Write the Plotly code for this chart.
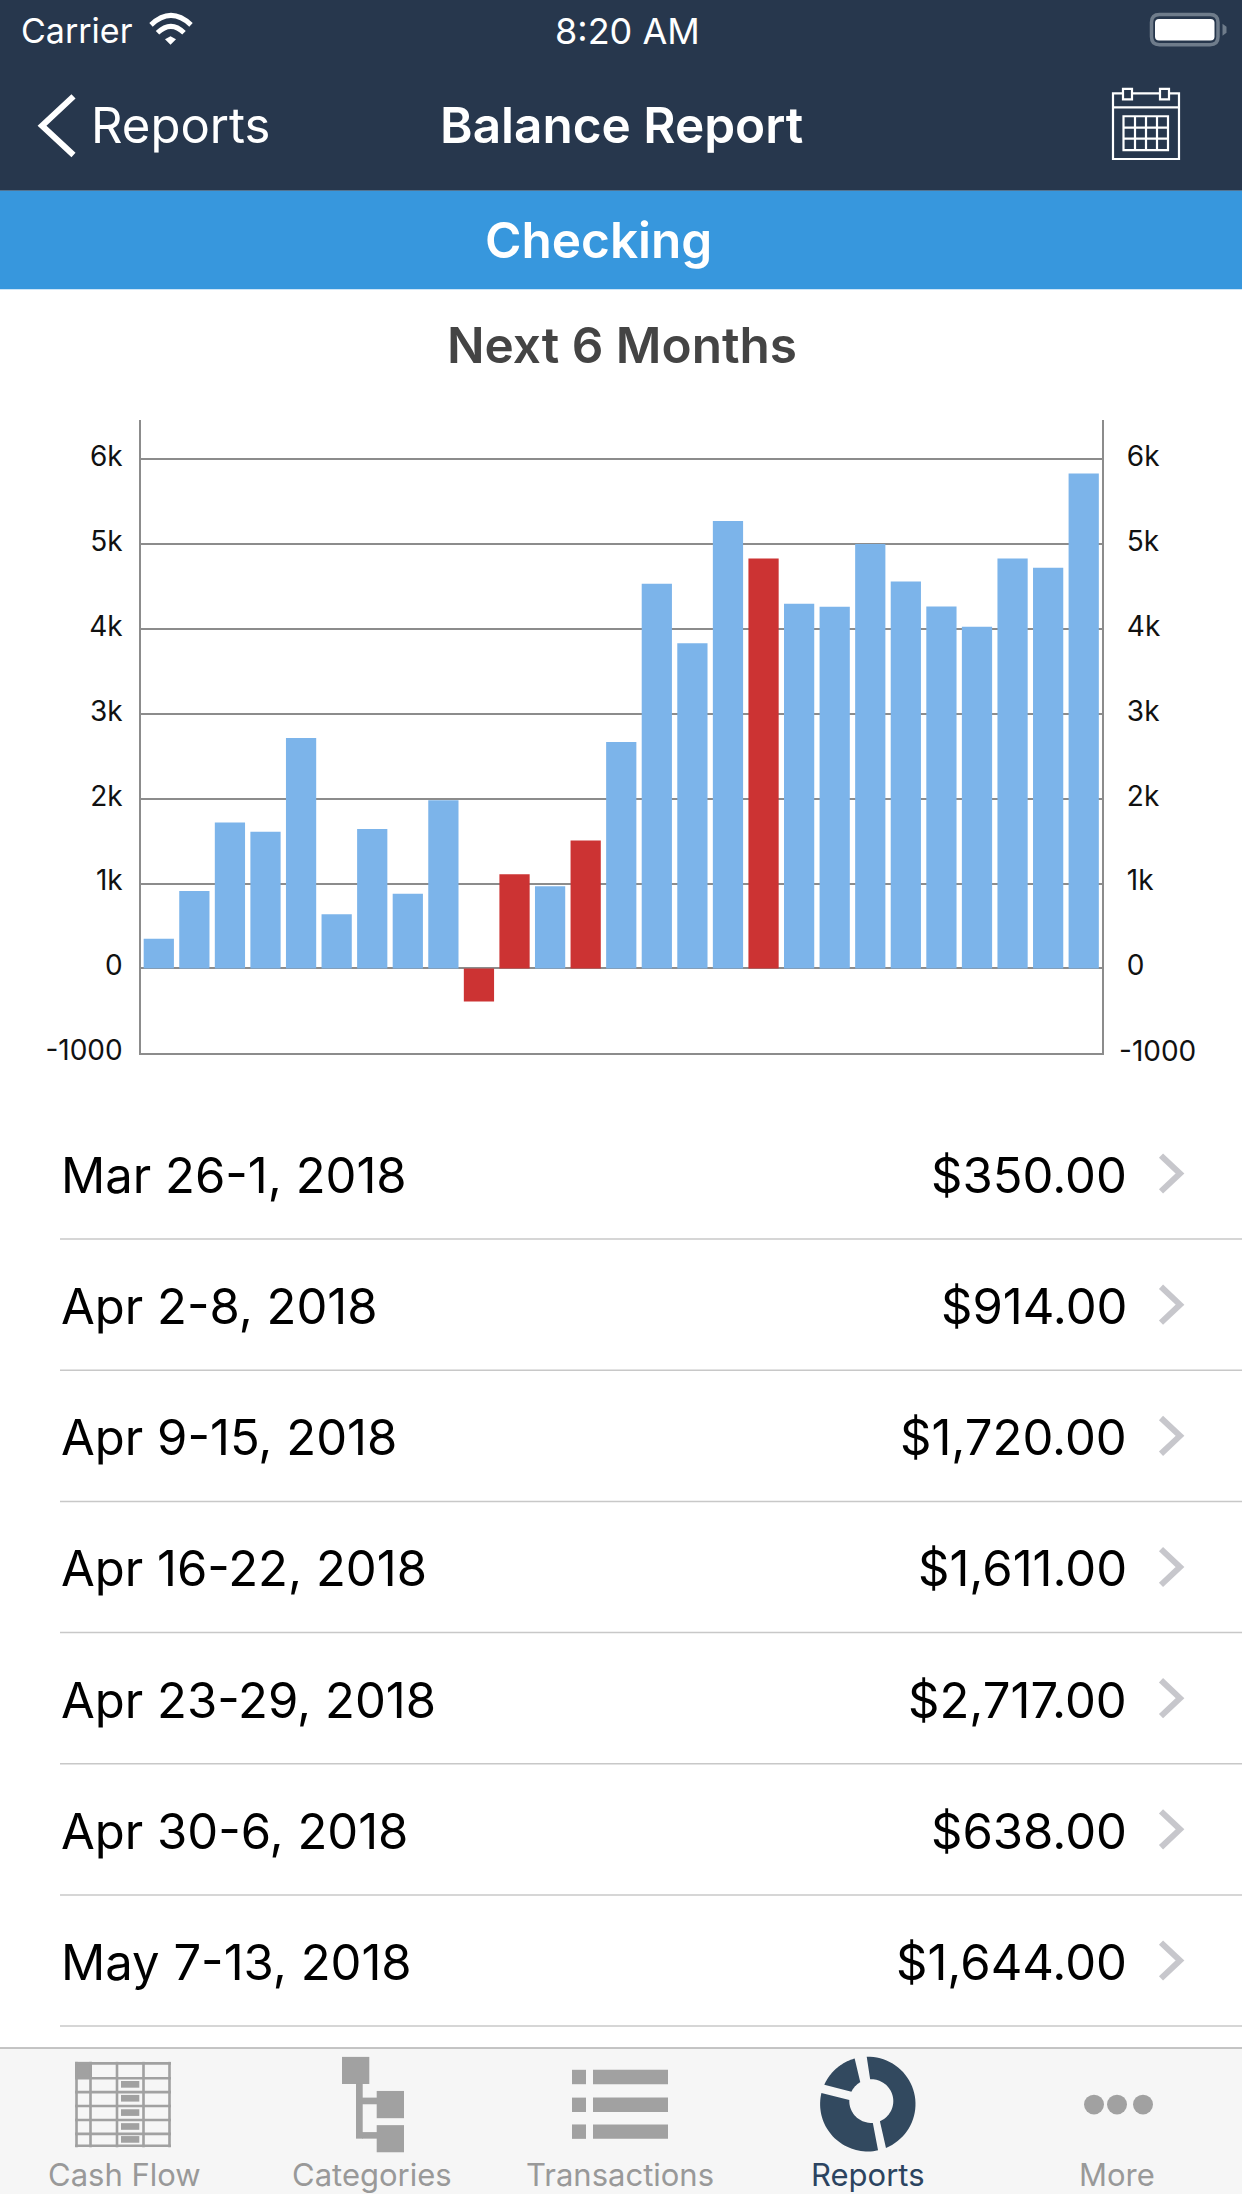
"""Balance Report screen: weekly balance bars, list rows, iOS chrome."""
import numpy as np
import plotly.graph_objects as go

W, H = 1242, 2208
FONT = "Inter"

# ── Data ─────────────────────────────────────────────────────────────────────
balances = [350, 914, 1720, 1611, 2717, 638, 1644, 880, 1982, -391, 1111, 970,
            1507, 2670, 4533, 3834, 5274, 4830, 4298, 4262, 5003, 4559, 4267,
            4027, 4830, 4721, 5832]
flagged_weeks = [9, 10, 12, 17]
week_labels = ["Mar 26-1, 2018", "Apr 2-8, 2018", "Apr 9-15, 2018",
               "Apr 16-22, 2018", "Apr 23-29, 2018", "Apr 30-6, 2018",
               "May 7-13, 2018"]
tick_values = [-1000, 0, 1000, 2000, 3000, 4000, 5000, 6000]
tick_labels = ["-1000", "0", "1k", "2k", "3k", "4k", "5k", "6k"]
tab_labels = ["Cash Flow", "Categories", "Transactions", "Reports", "More"]

NAVY = "#27374d"
BLUE = "#3797dd"
BAR_BLUE = "#7cb4ea"
BAR_RED = "#cc3333"
GRID = "#8c8c8c"
ICON_GRAY = "#a1a1a1"
TAB_GRAY = "#999999"
REPORT_NAVY = "#32495f"

shapes = []
annotations = []


def px(x):
    return x / W


def py(y):
    return 1 - y / H


def rect(x0, y0, x1, y1, fill, line=None, lw=0):
    shapes.append(dict(type="rect", xref="paper", yref="paper", layer="below",
                       x0=px(x0), x1=px(x1), y0=py(y0), y1=py(y1),
                       fillcolor=fill, line=dict(color=line, width=lw)))


def hline(x0, x1, y, color, lw):
    shapes.append(dict(type="line", xref="paper", yref="paper", layer="below",
                       x0=px(x0), x1=px(x1), y0=py(y), y1=py(y),
                       line=dict(color=color, width=lw)))


def vline(x, y0, y1, color, lw):
    shapes.append(dict(type="line", xref="paper", yref="paper", layer="below",
                       x0=px(x), x1=px(x), y0=py(y0), y1=py(y1),
                       line=dict(color=color, width=lw)))


def poly(points, fill=None, line=None, lw=0, closed=True):
    d = "M" + " L".join(f"{px(x):.5f},{py(y):.5f}" for x, y in points)
    if closed:
        d += " Z"
    shapes.append(dict(type="path", path=d, xref="paper", yref="paper",
                       layer="below", fillcolor=fill or "rgba(0,0,0,0)",
                       line=dict(color=line or "rgba(0,0,0,0)", width=lw)))


def curve(d_points, line, lw):
    (x0, y0), (cx, cy), (x1, y1) = d_points
    d = (f"M{px(x0):.5f},{py(y0):.5f} Q{px(cx):.5f},{py(cy):.5f} "
         f"{px(x1):.5f},{py(y1):.5f}")
    shapes.append(dict(type="path", path=d, xref="paper", yref="paper",
                       layer="below", line=dict(color=line, width=lw)))


def round_rect(x0, y0, x1, y1, r, fill=None, line=None, lw=0):
    d = (f"M{px(x0 + r)},{py(y0)} L{px(x1 - r)},{py(y0)} "
         f"Q{px(x1)},{py(y0)} {px(x1)},{py(y0 + r)} L{px(x1)},{py(y1 - r)} "
         f"Q{px(x1)},{py(y1)} {px(x1 - r)},{py(y1)} L{px(x0 + r)},{py(y1)} "
         f"Q{px(x0)},{py(y1)} {px(x0)},{py(y1 - r)} L{px(x0)},{py(y0 + r)} "
         f"Q{px(x0)},{py(y0)} {px(x0 + r)},{py(y0)} Z")
    shapes.append(dict(type="path", path=d, xref="paper", yref="paper",
                       layer="below", fillcolor=fill or "rgba(0,0,0,0)",
                       line=dict(color=line or "rgba(0,0,0,0)", width=lw)))


def text(s, x, y, size, color, anchor="center", weight=400):
    annotations.append(dict(text=s, x=px(x), y=py(y), xref="paper", yref="paper",
                            xanchor=anchor, yanchor="middle", showarrow=False,
                            font=dict(family=FONT, size=size, color=color,
                                      weight=weight)))


def arc(cx, cy, r, a0, a1, n=40):
    # angles in degrees, clockwise from straight up
    t = np.radians(np.linspace(a0, a1, n))
    return list(zip(cx + r * np.sin(t), cy - r * np.cos(t)))


def donut_piece(a0, a1, b0, b1):
    outer = arc(867.8, 2117.5, 47.7, a0, a1)
    inner = arc(871.3, 2114.5, 22, b1, b0)
    poly(outer + inner, fill=REPORT_NAVY)


# ── Header ───────────────────────────────────────────────────────────────────
rect(0, 0, W, 192, NAVY)
rect(0, 192, W, 291, BLUE)

text("Carrier", 19, 31, 34, "white", anchor="left")
text("8:20 AM", 627, 31, 36, "white")
curve([(151, 25), (171, 6), (191, 25)], "white", 5)
curve([(157.5, 33), (171, 20), (184, 33)], "white", 5)
poly([(165, 39.5), (170.5, 36.5), (176, 39.5), (170.5, 45)], fill="white")
round_rect(1151.5, 14.5, 1218, 45, 8, line="#6f7c8b", lw=3.5)
round_rect(1155, 19, 1214.5, 40.7, 4, fill="white")
poly([(1222.5, 24), (1226.5, 27), (1226.5, 33), (1222.5, 36)], fill="#6f7c8b")

poly([(73.5, 97), (42, 126.5), (73.5, 156)], line="white", lw=6, closed=False)
text("Reports", 89, 126, 49, "white", anchor="left")
text("Balance Report", 621, 126, 49.5, "white", weight=600)

rect(1113, 94, 1179, 160, "rgba(0,0,0,0)", line="white", lw=2.2)
hline(1113, 1179, 108, "white", 2.2)
rect(1123, 89.5, 1132, 100, NAVY, line="white", lw=2.2)
rect(1160, 89.5, 1169, 100, NAVY, line="white", lw=2.2)
rect(1123.5, 117, 1168, 151, "rgba(0,0,0,0)", line="white", lw=2.2)
for gx in (1135, 1146, 1157):
    vline(gx, 117, 151, "white", 2.2)
for gy in (128.5, 139.5):
    hline(1123.5, 1168, gy, "white", 2.2)

text("Checking", 598, 242, 49.5, "white", weight=600)
text("Next 6 Months", 622, 347, 49.5, "#444444", weight=600)

# ── List rows ────────────────────────────────────────────────────────────────
for i, (label, value) in enumerate(zip(week_labels, balances)):
    mid = 1183 + 132 * i
    text(label, 59, mid, 49, "#000000", anchor="left")
    text(f"${value:,.2f}", 1129, mid, 49, "#000000", anchor="right")
    poly([(1161, mid - 20), (1180, mid - 2), (1161, mid + 16)],
         line="#c7c7cc", lw=6, closed=False)
    hline(60, W, 1247 + 132 * i, "#c8c8c8", 1.5)

# ── Tab bar ──────────────────────────────────────────────────────────────────
rect(0, 2061, W, H, "#f6f6f6")
hline(0, W, 2061, "#b2b2b2", 1.5)

# cash flow grid
rect(75, 2075, 92, 2092, ICON_GRAY)
for gx in (76.5, 90.5, 117, 143.5, 169.5):
    vline(gx, 2075, 2161, ICON_GRAY, 2.6)
for gy in (2076.5, 2091.5, 2105.5, 2119.5, 2133.5, 2147.5, 2159.5):
    hline(75, 171, gy, ICON_GRAY, 2.6)
for top in (2094.3, 2108.3, 2122.7, 2136.7, 2149.7):
    rect(121, top, 139.3, top + 6.7, ICON_GRAY)

# categories tree
rect(342, 2070, 369.3, 2097.3, ICON_GRAY)
rect(376.7, 2104.3, 404, 2131.7, ICON_GRAY)
rect(376.7, 2138.7, 404, 2166, ICON_GRAY)
rect(356, 2097, 362.7, 2152.3, ICON_GRAY)
rect(362, 2111, 377, 2117.7, ICON_GRAY)
rect(362, 2145.7, 377, 2152.3, ICON_GRAY)

# transactions list
for top in (2083, 2111, 2138):
    rect(572, top, 586, top + 14.5, ICON_GRAY)
    rect(593, top, 668, top + 14.5, ICON_GRAY)

# reports donut
donut_piece(-1.3, 157.6, -3, 157)
donut_piece(-65.8, -16, -64.4, -30)
donut_piece(-192.4, -76.5, -184, -87)

# more dots
for cx_ in (1094, 1117, 1143):
    shapes.append(dict(type="circle", xref="paper", yref="paper", layer="below",
                       x0=px(cx_ - 10), x1=px(cx_ + 10), y0=py(2128), y1=py(2108),
                       fillcolor=ICON_GRAY, line=dict(width=0)))

for label, cx_ in zip(tab_labels, (124, 372, 620, 868, 1117)):
    color = "#2c4460" if label == "Reports" else TAB_GRAY
    text(label, cx_, 2188, 31, color)

# ── Chart ────────────────────────────────────────────────────────────────────
weeks = list(range(len(balances)))
bar_colors = [BAR_RED if i in flagged_weeks else BAR_BLUE for i in weeks]

fig = go.Figure()
fig.add_trace(go.Bar(x=weeks, y=balances, marker=dict(color=bar_colors, line_width=0),
                     showlegend=False, hoverinfo="skip"))
# invisible copy so the right-hand axis gets drawn
fig.add_trace(go.Scatter(x=weeks, y=balances, yaxis="y2", mode="lines",
                         opacity=0, showlegend=False, hoverinfo="skip"))

y_range = [-1000, 6460]
tick_font = dict(family=FONT, size=28, color="#111111")
annotations.append(dict(text=tick_labels[0], x=px(1116.5), xref="paper", y=-1000,
                        yref="y", yshift=2, xanchor="left", yanchor="middle",
                        showarrow=False, font=tick_font))

fig.update_layout(
    width=W, height=H,
    margin=dict(l=0, r=0, t=0, b=0),
    paper_bgcolor="white", plot_bgcolor="white",
    bargap=0.15,
    shapes=shapes, annotations=annotations,
    xaxis=dict(domain=[px(141), px(1101.5)], range=[-0.5, len(balances) - 0.5],
               showgrid=False, zeroline=False, showticklabels=False, ticks="",
               showline=True, linecolor=GRID, linewidth=1.5),
    yaxis=dict(domain=[py(1060), py(423)], range=y_range, tickvals=tick_values,
               ticktext=tick_labels, tickfont=tick_font, gridcolor=GRID,
               gridwidth=1.5, zeroline=True, zerolinecolor=GRID, zerolinewidth=1.5,
               showline=True, linecolor=GRID, linewidth=1.5,
               ticklabelstandoff=11, ticklabelshift=-3),
    yaxis2=dict(overlaying="y", side="right", range=y_range,
                tickvals=tick_values[1:], ticktext=tick_labels[1:],
                tickfont=tick_font, showgrid=False, zeroline=False,
                showline=True, linecolor=GRID, linewidth=1.5,
                ticklabelstandoff=18, ticklabelshift=-3),
)

fig.write_html("out.html", config={"displayModeBar": False},
               post_script="document.body.style.margin='0';"
                           "document.documentElement.style.background='#000';"
                           "document.body.style.background='#f0f';")
